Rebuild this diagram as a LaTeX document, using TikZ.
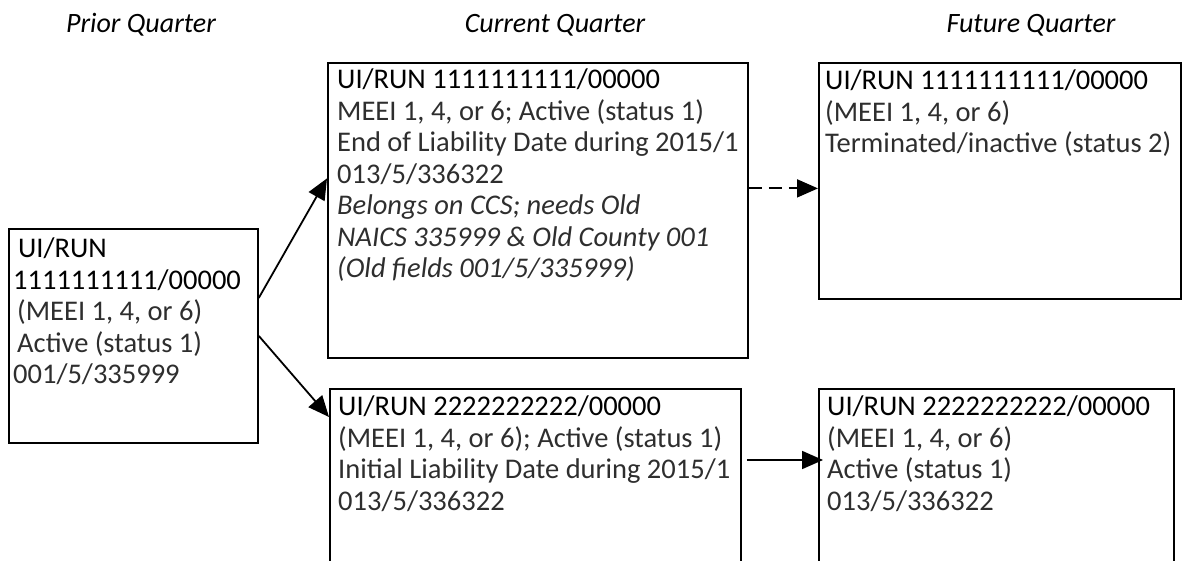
\documentclass[tikz,border=0pt]{standalone}
\usepackage{fontspec}
\setmainfont{Carlito}
\usepackage{xcolor}
\usetikzlibrary{arrows.meta}
\usetikzlibrary{positioning}

\colorlet{bodygray}{black!82}

\tikzset{
  box/.style={draw, line width=1.8pt, anchor=north west, inner sep=0pt},
  txt/.style={anchor=north west, align=left, inner sep=0pt,
    font=\fontsize{28.5}{31.5}\selectfont, execute at begin node=\strut},
  head/.style={anchor=base, font=\fontsize{28}{32}\selectfont\itshape},
  link/.style={line width=1.8pt, -{Triangle[length=21pt,width=18pt]}}
}
\newcommand{\bodyline}[1]{{\color{bodygray}#1}}

\begin{document}
\begin{tikzpicture}[x=1pt,y=-1pt]
        \clip (0,0) rectangle (1182,561);

        % quarter headings
        \node[head] (hprior) at (141,33) {Prior Quarter};
        \node[head] (hcur) at (555,33) {Current Quarter};
        \node[head] (hfut) at (1031,33) {Future Quarter};

        % boxes
        \node[box, minimum width=249pt, minimum height=214pt] (prior) at (8,228) {};
        \node[box, minimum width=420pt, minimum height=295pt] (curA) at (327,62) {};
        \node[box, minimum width=362pt, minimum height=236pt] (futA) at (818,62) {};
        \node[box, minimum width=411pt, minimum height=220pt] (curB) at (329,388) {};
        \node[box, minimum width=355pt, minimum height=220pt] (futB) at (818,388) {};

        % box texts (first baseline 22pt below the node top)
        \node[txt] (tprior) at ([xshift=5pt,yshift=-10pt]prior.north west)
            {\hspace*{5pt}UI/RUN\\ 1111111111/00000\\
             \hspace*{4pt}\bodyline{(MEEI 1, 4, or 6)}\\
             \hspace*{4pt}\bodyline{Active (status 1)}\\
             \bodyline{001/5/335999}};
        \node[txt] (tcurA) at ([xshift=10pt,yshift=-7pt]curA.north west)
            {UI/RUN 1111111111/00000\\
             \bodyline{MEEI 1, 4, or 6; Active (status 1)}\\
             \bodyline{End of Liability Date during 2015/1}\\
             \bodyline{013/5/336322}\\
             \bodyline{\itshape Belongs on CCS; needs Old}\\
             \bodyline{\itshape NAICS 335999 \& Old County 001}\\
             \bodyline{\itshape (Old fields 001/5/335999)}};
        \node[txt] (tfutA) at ([xshift=7pt,yshift=-8pt]futA.north west)
            {UI/RUN 1111111111/00000\\
             \bodyline{(MEEI 1, 4, or 6)}\\
             \bodyline{Terminated/inactive (status 2)}};
        \node[txt] (tcurB) at ([xshift=9pt,yshift=-8pt]curB.north west)
            {UI/RUN 2222222222/00000\\
             \bodyline{(MEEI 1, 4, or 6); Active (status 1)}\\
             \bodyline{Initial Liability Date during 2015/1}\\
             \bodyline{013/5/336322}};
        \node[txt] (tfutB) at ([xshift=9pt,yshift=-8pt]futB.north west)
            {UI/RUN 2222222222/00000\\
             \bodyline{(MEEI 1, 4, or 6)}\\
             \bodyline{Active (status 1)}\\
             \bodyline{013/5/336322}};

        % connectors
        \draw[link] ([yshift=38pt]prior.east) -- ([yshift=32pt]curA.west);
        \draw[link] (prior.east) -- ([yshift=-29pt]curB.north west);
        \draw[link, dash pattern=on 13pt off 7pt]
            ([yshift=22pt]curA.east) -- ([yshift=22pt]curA.east -| futA.west);
        \draw[link] ([xshift=5pt,yshift=-72pt]curB.north east)
            -- ([xshift=5pt,yshift=-72pt]curB.north east -| futB.west);
\end{tikzpicture}
\end{document}
